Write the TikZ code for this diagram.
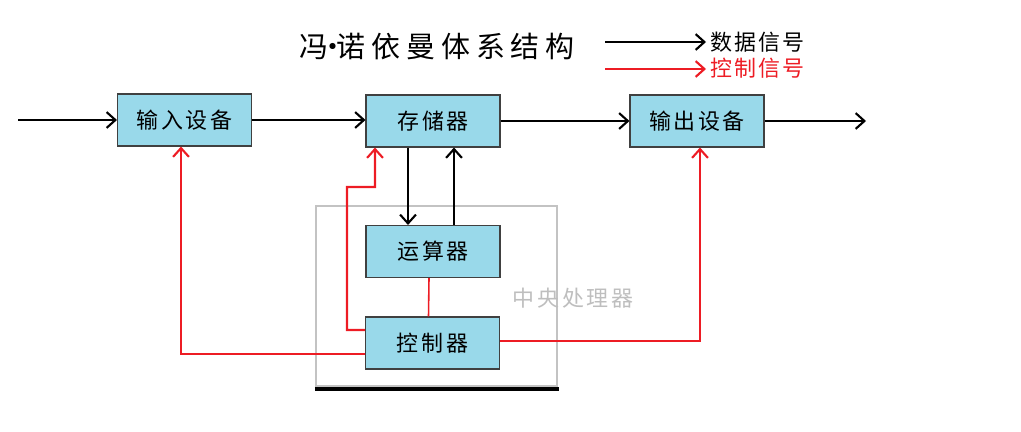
\documentclass[tikz,border=0pt]{standalone}
\usepackage{fontspec}
\setmainfont{Noto Sans CJK SC}
\newfontfamily\cjkwide[LetterSpace=12]{Noto Sans CJK SC}
\newfontfamily\cjkmid[LetterSpace=10]{Noto Sans CJK SC}
\newfontfamily\cjktitle[LetterSpace=20]{Noto Sans CJK SC}
\usetikzlibrary{arrows.meta}
\definecolor{boxblue}{RGB}{153,217,234}
\definecolor{sigred}{RGB}{237,28,36}
\definecolor{framegray}{RGB}{195,195,195}
\definecolor{textgray}{RGB}{190,190,190}
\tikzset{
  box/.style={draw=black!75, fill=boxblue, minimum width=2.68cm, minimum height=1.04cm,
    inner sep=0pt, line width=0.6pt, font=\cjkwide\fontsize{12.5pt}{13pt}\selectfont},
  datawire/.style={draw=black, line width=1.3pt, -{Straight Barb[length=5pt,width=9pt,line width=1.2pt]}},
  ctrlwire/.style={draw=sigred, line width=1.3pt, -{Straight Barb[length=5pt,width=9pt,line width=1.2pt]}},
  ctrlplain/.style={draw=sigred, line width=0.9pt},
  frame/.style={draw=framegray, line width=1.2pt, minimum width=4.82cm, minimum height=3.6cm, inner sep=0pt}
}
\begin{document}
\begin{tikzpicture}[x=0.02cm,y=-0.02cm]
\useasboundingbox (0,0) rectangle (1021,432);
% CPU frame
\node[frame] (cpu) at (436.5,296) {};
\draw[line width=2.4pt] (cpu.south west) ++(0,-0.04cm) coordinate (bl) -- ++(4.88cm,0) coordinate (br);
\node[text=textgray, font=\cjkwide\fontsize{12.5pt}{13pt}\selectfont] (cpulabel) at (573,298) {中央处理器};
% title and legend
\node[font=\cjktitle\fontsize{16.5pt}{17pt}\selectfont] (title) at (437,47) {冯{\kern-0.35em}•{\kern-0.35em}诺依曼体系结构};
\coordinate (la1) at (605,42); \coordinate (lb1) at (706,42);
\coordinate (la2) at (605,69); \coordinate (lb2) at (706,69);
\draw[datawire] (la1) -- (lb1);
\draw[ctrlwire] (la2) -- (lb2);
\node[anchor=west, inner sep=0pt, font=\cjkmid\fontsize{12.5pt}{13pt}\selectfont] (legdata) at (710,42) {数据信号};
\node[anchor=west, inner sep=0pt, text=sigred, font=\cjkmid\fontsize{12.5pt}{13pt}\selectfont] (legctrl) at (710,68) {控制信号};
% boxes
\node[box] (in) at (184.5,120) {输入设备};
\node[box] (mem) at (433,121) {存储器};
\node[box] (out) at (697,121) {输出设备};
\node[box] (alu) at (433,251.5) {运算器};
\node[box] (ctl) at (432.5,343) {控制器};
% data signals
\coordinate (src) at (18,120);
\coordinate (sink) at (866,121);
\draw[datawire] (src) -- (in);
\draw[datawire] (in) -- (in -| mem.west);
\draw[datawire] (mem) -- (out);
\draw[datawire] (out) -- (sink);
\draw[datawire] ([xshift=-0.5cm]mem.south) -- ([xshift=-0.5cm]alu.north);
\draw[datawire] ([xshift=0.42cm]alu.north) -- ([xshift=0.42cm]mem.south);
% control signals
\draw[ctrlplain] ([xshift=-0.08cm]alu.south) -- ([xshift=-0.08cm]ctl.north);
\draw[ctrlwire] ([yshift=0.26cm]ctl.west) -| (347,187) -- (375,187) -- ([xshift=-1.16cm]mem.south);
\draw[ctrlwire] ([yshift=-0.22cm]ctl.west) -| ([xshift=-0.07cm]in.south);
\draw[ctrlwire] ([yshift=0.04cm]ctl.east) -| ([xshift=0.06cm]out.south);
\end{tikzpicture}
\end{document}
